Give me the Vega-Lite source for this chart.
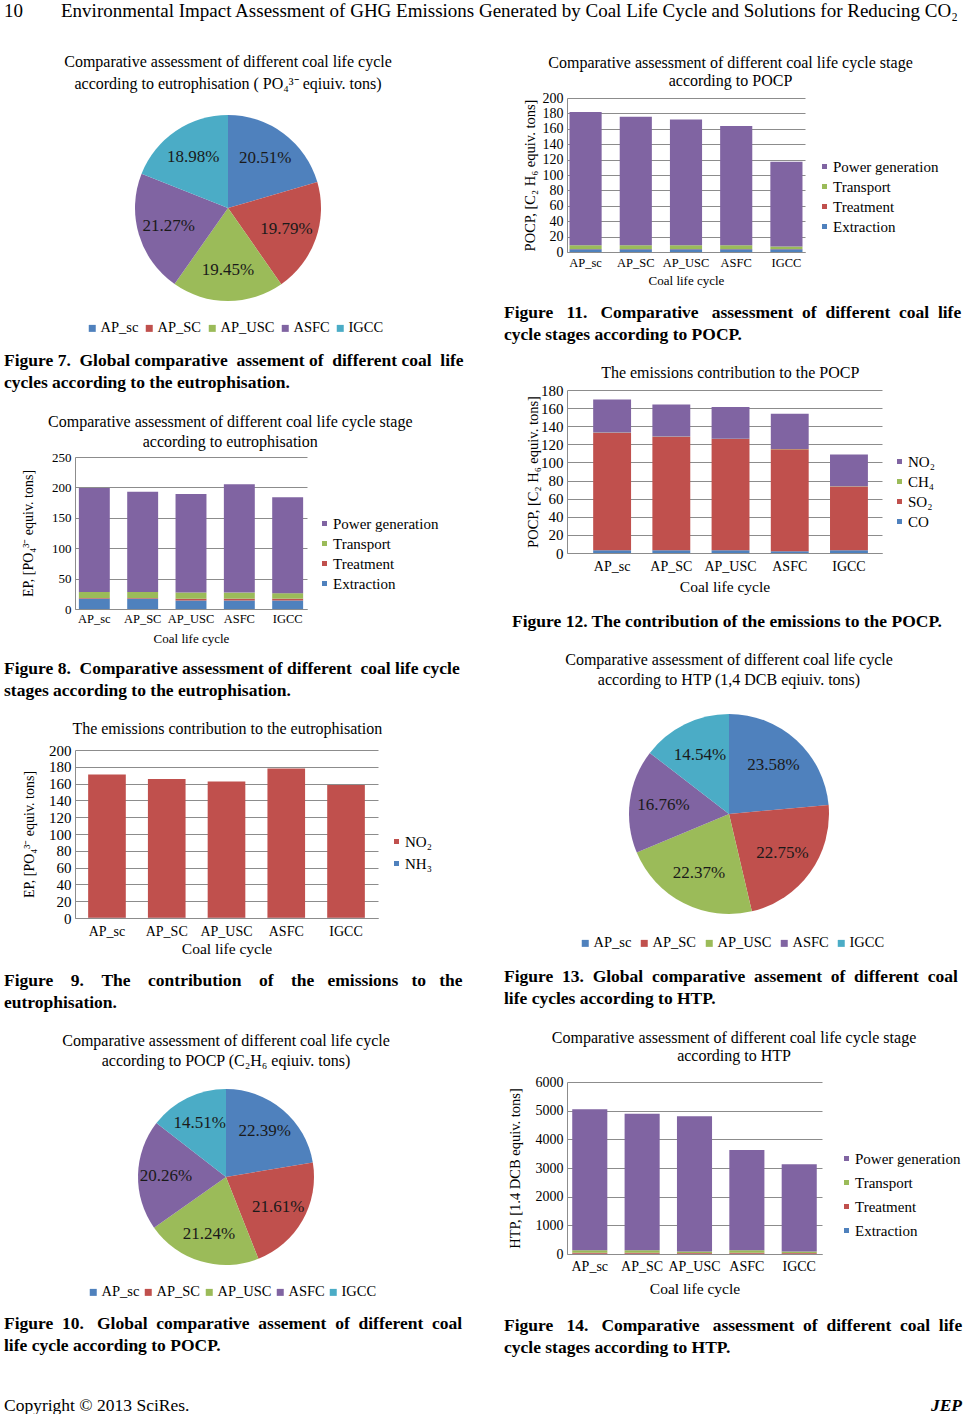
{
  "$schema": "https://vega.github.io/schema/vega-lite/v6.json",
  "background": "white",
  "padding": {"left": 4, "top": 2, "right": 0, "bottom": 0},
  "title": {"text": "10\u2003\u2003Environmental Impact Assessment of GHG Emissions Generated by Coal Life Cycle and Solutions for Reducing CO₂", "anchor": "start", "frame": "bounds", "fontSize": 19, "fontWeight": "normal", "offset": 33},
  "config": {
    "font": "Liberation Serif",
    "view": {"stroke": null},
    "title": {"font": "Liberation Serif", "fontSize": 16, "fontWeight": "normal", "color": "black"},
    "axis": {"labelFont": "Liberation Serif", "titleFont": "Liberation Serif", "labelColor": "black", "titleColor": "black", "titleFontWeight": "normal"},
    "axisY": {"grid": true, "gridColor": "#8c8c8c", "domainColor": "#8c8c8c", "ticks": false, "labelPadding": 4},
    "axisX": {"grid": false, "domainColor": "#8c8c8c", "ticks": false, "labelAngle": 0},
    "legend": {"labelFont": "Liberation Serif", "labelFontSize": 15, "labelColor": "black", "symbolType": "square", "symbolSize": 25, "symbolStrokeWidth": 0, "labelOffset": 1}
  },
  "resolve": {"scale": {"color": "independent"}, "legend": {"color": "independent"}},
  "datasets": {
    "pie7": [
      {"c": "AP_sc", "p": 0.2051, "n": 1}, {"c": "AP_SC", "p": 0.1979, "n": 2}, {"c": "AP_USC", "p": 0.1945, "n": 3}, {"c": "ASFC", "p": 0.2127, "n": 4}, {"c": "IGCC", "p": 0.1898, "n": 5}
    ],
    "pie10": [
      {"c": "AP_sc", "p": 0.2239, "n": 1}, {"c": "AP_SC", "p": 0.2161, "n": 2}, {"c": "AP_USC", "p": 0.2124, "n": 3}, {"c": "ASFC", "p": 0.2026, "n": 4}, {"c": "IGCC", "p": 0.1451, "n": 5}
    ],
    "pie13": [
      {"c": "AP_sc", "p": 0.2358, "n": 1}, {"c": "AP_SC", "p": 0.2275, "n": 2}, {"c": "AP_USC", "p": 0.2237, "n": 3}, {"c": "ASFC", "p": 0.1676, "n": 4}, {"c": "IGCC", "p": 0.1454, "n": 5}
    ],
    "ep_stage": [
      {"c": "AP_sc", "s": "Extraction", "n": 1, "v": 17}, {"c": "AP_sc", "s": "Treatment", "n": 2, "v": 1}, {"c": "AP_sc", "s": "Transport", "n": 3, "v": 10}, {"c": "AP_sc", "s": "Power generation", "n": 4, "v": 171},
      {"c": "AP_SC", "s": "Extraction", "n": 1, "v": 17}, {"c": "AP_SC", "s": "Treatment", "n": 2, "v": 1}, {"c": "AP_SC", "s": "Transport", "n": 3, "v": 10}, {"c": "AP_SC", "s": "Power generation", "n": 4, "v": 165},
      {"c": "AP_USC", "s": "Extraction", "n": 1, "v": 14}, {"c": "AP_USC", "s": "Treatment", "n": 2, "v": 3}, {"c": "AP_USC", "s": "Transport", "n": 3, "v": 10}, {"c": "AP_USC", "s": "Power generation", "n": 4, "v": 162},
      {"c": "ASFC", "s": "Extraction", "n": 1, "v": 14}, {"c": "ASFC", "s": "Treatment", "n": 2, "v": 3}, {"c": "ASFC", "s": "Transport", "n": 3, "v": 10}, {"c": "ASFC", "s": "Power generation", "n": 4, "v": 178},
      {"c": "IGCC", "s": "Extraction", "n": 1, "v": 14}, {"c": "IGCC", "s": "Treatment", "n": 2, "v": 3}, {"c": "IGCC", "s": "Transport", "n": 3, "v": 9}, {"c": "IGCC", "s": "Power generation", "n": 4, "v": 158}
    ],
    "ep_em": [
      {"c": "AP_sc", "s": "NH₃", "n": 1, "v": 0.4}, {"c": "AP_sc", "s": "NO₂", "n": 2, "v": 170.5},
      {"c": "AP_SC", "s": "NH₃", "n": 1, "v": 0.4}, {"c": "AP_SC", "s": "NO₂", "n": 2, "v": 165},
      {"c": "AP_USC", "s": "NH₃", "n": 1, "v": 0.4}, {"c": "AP_USC", "s": "NO₂", "n": 2, "v": 162},
      {"c": "ASFC", "s": "NH₃", "n": 1, "v": 0.4}, {"c": "ASFC", "s": "NO₂", "n": 2, "v": 177.5},
      {"c": "IGCC", "s": "NH₃", "n": 1, "v": 0.4}, {"c": "IGCC", "s": "NO₂", "n": 2, "v": 158}
    ],
    "pocp_stage": [
      {"c": "AP_sc", "s": "Extraction", "n": 1, "v": 3.5}, {"c": "AP_sc", "s": "Treatment", "n": 2, "v": 0.3}, {"c": "AP_sc", "s": "Transport", "n": 3, "v": 5}, {"c": "AP_sc", "s": "Power generation", "n": 4, "v": 173},
      {"c": "AP_SC", "s": "Extraction", "n": 1, "v": 3.5}, {"c": "AP_SC", "s": "Treatment", "n": 2, "v": 0.3}, {"c": "AP_SC", "s": "Transport", "n": 3, "v": 5}, {"c": "AP_SC", "s": "Power generation", "n": 4, "v": 166.7},
      {"c": "AP_USC", "s": "Extraction", "n": 1, "v": 3.5}, {"c": "AP_USC", "s": "Treatment", "n": 2, "v": 0.3}, {"c": "AP_USC", "s": "Transport", "n": 3, "v": 5}, {"c": "AP_USC", "s": "Power generation", "n": 4, "v": 163.2},
      {"c": "ASFC", "s": "Extraction", "n": 1, "v": 3.5}, {"c": "ASFC", "s": "Treatment", "n": 2, "v": 0.3}, {"c": "ASFC", "s": "Transport", "n": 3, "v": 5}, {"c": "ASFC", "s": "Power generation", "n": 4, "v": 154.7},
      {"c": "IGCC", "s": "Extraction", "n": 1, "v": 3.5}, {"c": "IGCC", "s": "Treatment", "n": 2, "v": 0.3}, {"c": "IGCC", "s": "Transport", "n": 3, "v": 3.3}, {"c": "IGCC", "s": "Power generation", "n": 4, "v": 110}
    ],
    "pocp_em": [
      {"c": "AP_sc", "s": "CO", "n": 1, "v": 3}, {"c": "AP_sc", "s": "SO₂", "n": 2, "v": 129.8}, {"c": "AP_sc", "s": "CH₄", "n": 3, "v": 0.3}, {"c": "AP_sc", "s": "NO₂", "n": 4, "v": 36.4},
      {"c": "AP_SC", "s": "CO", "n": 1, "v": 3}, {"c": "AP_SC", "s": "SO₂", "n": 2, "v": 125.3}, {"c": "AP_SC", "s": "CH₄", "n": 3, "v": 0.3}, {"c": "AP_SC", "s": "NO₂", "n": 4, "v": 35.3},
      {"c": "AP_USC", "s": "CO", "n": 1, "v": 3}, {"c": "AP_USC", "s": "SO₂", "n": 2, "v": 123}, {"c": "AP_USC", "s": "CH₄", "n": 3, "v": 0.3}, {"c": "AP_USC", "s": "NO₂", "n": 4, "v": 35},
      {"c": "ASFC", "s": "CO", "n": 1, "v": 2}, {"c": "ASFC", "s": "SO₂", "n": 2, "v": 112.5}, {"c": "ASFC", "s": "CH₄", "n": 3, "v": 0.3}, {"c": "ASFC", "s": "NO₂", "n": 4, "v": 39.1},
      {"c": "IGCC", "s": "CO", "n": 1, "v": 3}, {"c": "IGCC", "s": "SO₂", "n": 2, "v": 70.3}, {"c": "IGCC", "s": "CH₄", "n": 3, "v": 0.3}, {"c": "IGCC", "s": "NO₂", "n": 4, "v": 35.3}
    ],
    "htp_stage": [
      {"c": "AP_sc", "s": "Extraction", "n": 1, "v": 10}, {"c": "AP_sc", "s": "Treatment", "n": 2, "v": 30}, {"c": "AP_sc", "s": "Transport", "n": 3, "v": 90}, {"c": "AP_sc", "s": "Power generation", "n": 4, "v": 4923},
      {"c": "AP_SC", "s": "Extraction", "n": 1, "v": 10}, {"c": "AP_SC", "s": "Treatment", "n": 2, "v": 30}, {"c": "AP_SC", "s": "Transport", "n": 3, "v": 90}, {"c": "AP_SC", "s": "Power generation", "n": 4, "v": 4759},
      {"c": "AP_USC", "s": "Extraction", "n": 1, "v": 10}, {"c": "AP_USC", "s": "Treatment", "n": 2, "v": 25}, {"c": "AP_USC", "s": "Transport", "n": 3, "v": 50}, {"c": "AP_USC", "s": "Power generation", "n": 4, "v": 4722},
      {"c": "ASFC", "s": "Extraction", "n": 1, "v": 10}, {"c": "ASFC", "s": "Treatment", "n": 2, "v": 30}, {"c": "ASFC", "s": "Transport", "n": 3, "v": 90}, {"c": "ASFC", "s": "Power generation", "n": 4, "v": 3496},
      {"c": "IGCC", "s": "Extraction", "n": 1, "v": 10}, {"c": "IGCC", "s": "Treatment", "n": 2, "v": 25}, {"c": "IGCC", "s": "Transport", "n": 3, "v": 50}, {"c": "IGCC", "s": "Power generation", "n": 4, "v": 3050}
    ]
  },
  "spacing": 40,
  "vconcat": [
    {
      "spacing": 40,
      "resolve": {"scale": {"color": "independent"}, "legend": {"color": "independent"}},
      "hconcat": [
        {
          "spacing": 22,
          "resolve": {"scale": {"color": "independent"}, "legend": {"color": "independent"}},
          "vconcat": [
            {
              "title": {"text": ["Figure 7. \u00a0Global comparative \u00a0assement of \u00a0different coal \u00a0life", "cycles according to the eutrophisation."], "orient": "bottom", "anchor": "start", "frame": "group", "dx": -71, "fontSize": 17.5, "fontWeight": "bold", "lineHeight": 22, "offset": 17},
              "resolve": {"scale": {"color": "independent"}, "legend": {"color": "independent"}},
              "vconcat": [
                {
                  "title": {"text": ["Comparative assessment of different coal life cycle", "according to eutrophisation ( PO₄³⁻   eqiuiv. tons)"], "lineHeight": 22, "offset": 6, "anchor": "middle", "frame": "group"},
                  "width": 306, "height": 220,
                  "data": {"name": "pie7"},
                  "encoding": {
                    "theta": {"field": "p", "type": "quantitative", "stack": true},
                    "order": {"field": "n", "type": "quantitative"}
                  },
                  "layer": [
                    {"mark": {"type": "arc", "outerRadius": 93},
                     "encoding": {"color": {"field": "c", "type": "nominal", "scale": {"domain": ["AP_sc", "AP_SC", "AP_USC", "ASFC", "IGCC"], "range": ["#4F81BD", "#C0504D", "#9BBB59", "#8064A2", "#4BACC6"]}, "legend": {"title": null, "orient": "none", "direction": "horizontal", "legendX": 10, "legendY": 223, "symbolSize": 49, "columnPadding": 3, "labelFontSize": 14.5}}}},
                    {"mark": {"type": "text", "radius": 62, "fontSize": 17, "color": "#1a1a1a"},
                     "encoding": {"text": {"field": "p", "type": "quantitative", "format": ".2%"}, "detail": {"field": "c", "type": "nominal"}}}
                  ]
                }
              ]
            },
            {
              "title": {"text": ["Figure 8. \u00a0Comparative assessment of different \u00a0coal life cycle", "stages according to the eutrophisation."], "orient": "bottom", "anchor": "start", "frame": "group", "dx": -71, "fontSize": 17.5, "fontWeight": "bold", "lineHeight": 22, "offset": 14},
              "resolve": {"scale": {"color": "independent"}, "legend": {"color": "independent"}},
              "vconcat": [
                {
                  "title": {"text": ["Comparative assessment of different coal life cycle stage", "according to eutrophisation"], "lineHeight": 20, "offset": 1, "anchor": "middle", "frame": "bounds"},
                  "width": 232, "height": 152,
                  "data": {"name": "ep_stage"},
                  "mark": {"type": "bar"},
                  "encoding": {
                    "x": {"field": "c", "type": "nominal", "sort": ["AP_sc", "AP_SC", "AP_USC", "ASFC", "IGCC"], "scale": {"paddingInner": 0.36, "paddingOuter": 0.08}, "axis": {"title": "Coal life cycle", "labelFontSize": 12.5, "titleFontSize": 13, "labelPadding": 3, "titlePadding": 8}},
                    "y": {"field": "v", "type": "quantitative", "stack": "zero", "scale": {"domain": [0, 250]}, "axis": {"title": "EP, [PO₄³⁻ equiv. tons]", "values": [0, 50, 100, 150, 200, 250], "labelFontSize": 13, "titleFontSize": 14, "titlePadding": 16}},
                    "color": {"field": "s", "type": "nominal", "scale": {"domain": ["Power generation", "Transport", "Treatment", "Extraction"], "range": ["#8064A2", "#9BBB59", "#C0504D", "#4F81BD"]}, "legend": {"title": null, "orient": "none", "legendX": 242, "legendY": 59, "rowPadding": 4}},
                    "order": {"field": "n", "type": "quantitative"}
                  }
                }
              ]
            },
            {
              "title": {"text": ["Figure \u00a0\u00a0\u00a09. \u00a0\u00a0\u00a0The \u00a0\u00a0\u00a0contribution \u00a0\u00a0\u00a0of \u00a0\u00a0\u00a0the \u00a0\u00a0emissions \u00a0\u00a0to \u00a0\u00a0the", "eutrophisation."], "orient": "bottom", "anchor": "start", "frame": "group", "dx": -71, "fontSize": 17.5, "fontWeight": "bold", "lineHeight": 22, "offset": 15},
              "resolve": {"scale": {"color": "independent"}, "legend": {"color": "independent"}},
              "vconcat": [
                {
                  "title": {"text": "The emissions contribution to the eutrophisation", "offset": 6, "anchor": "middle", "frame": "bounds"},
                  "width": 303, "height": 168,
                  "data": {"name": "ep_em"},
                  "mark": {"type": "bar"},
                  "encoding": {
                    "x": {"field": "c", "type": "nominal", "sort": ["AP_sc", "AP_SC", "AP_USC", "ASFC", "IGCC"], "scale": {"paddingInner": 0.37, "paddingOuter": 0.22}, "axis": {"title": "Coal life cycle", "labelFontSize": 14, "titleFontSize": 15.5, "labelPadding": 6, "titlePadding": 3}},
                    "y": {"field": "v", "type": "quantitative", "stack": "zero", "scale": {"domain": [0, 200]}, "axis": {"title": "EP, [PO₄³⁻ equiv. tons]", "values": [0, 20, 40, 60, 80, 100, 120, 140, 160, 180, 200], "labelFontSize": 15, "titleFontSize": 14, "titlePadding": 12}},
                    "color": {"field": "s", "type": "nominal", "scale": {"domain": ["NO₂", "NH₃"], "range": ["#C0504D", "#4F81BD"]}, "legend": {"title": null, "orient": "none", "legendX": 314, "legendY": 84, "rowPadding": 6}},
                    "order": {"field": "n", "type": "quantitative"}
                  }
                }
              ]
            },
            {
              "title": {"text": ["Figure \u00a010. \u00a0\u00a0Global \u00a0comparative \u00a0assement \u00a0of \u00a0different \u00a0coal", "life cycle according to POCP."], "orient": "bottom", "anchor": "start", "frame": "group", "dx": -71, "fontSize": 17.5, "fontWeight": "bold", "lineHeight": 22, "offset": 16},
              "resolve": {"scale": {"color": "independent"}, "legend": {"color": "independent"}},
              "vconcat": [
                {
                  "title": {"text": ["Comparative assessment of different coal life cycle", "according to POCP (C₂H₆ eqiuiv. tons)"], "lineHeight": 20, "offset": 18, "anchor": "middle", "frame": "group"},
                  "width": 302, "height": 180,
                  "data": {"name": "pie10"},
                  "encoding": {
                    "theta": {"field": "p", "type": "quantitative", "stack": true},
                    "order": {"field": "n", "type": "quantitative"}
                  },
                  "layer": [
                    {"mark": {"type": "arc", "outerRadius": 88},
                     "encoding": {"color": {"field": "c", "type": "nominal", "scale": {"domain": ["AP_sc", "AP_SC", "AP_USC", "ASFC", "IGCC"], "range": ["#4F81BD", "#C0504D", "#9BBB59", "#8064A2", "#4BACC6"]}, "legend": {"title": null, "orient": "none", "direction": "horizontal", "legendX": 11, "legendY": 198, "symbolSize": 49, "columnPadding": 1, "labelFontSize": 14.5}}}},
                    {"mark": {"type": "text", "radius": 60, "fontSize": 17, "color": "#1a1a1a"},
                     "encoding": {"text": {"field": "p", "type": "quantitative", "format": ".2%"}, "detail": {"field": "c", "type": "nominal"}}}
                  ]
                }
              ]
            }
          ]
        },
        {
          "spacing": 22,
          "resolve": {"scale": {"color": "independent"}, "legend": {"color": "independent"}},
          "vconcat": [
            {
              "title": {"text": ["Figure \u00a0\u00a011. \u00a0\u00a0Comparative \u00a0\u00a0assessment \u00a0of \u00a0different \u00a0coal \u00a0life", "cycle stages according to POCP."], "orient": "bottom", "anchor": "start", "frame": "group", "dx": -63, "fontSize": 17.5, "fontWeight": "bold", "lineHeight": 22, "offset": 16},
              "resolve": {"scale": {"color": "independent"}, "legend": {"color": "independent"}},
              "vconcat": [
                {
                  "title": {"text": ["Comparative assessment of different coal life cycle stage", "according to POCP"], "lineHeight": 18, "offset": 2, "anchor": "middle", "frame": "bounds"},
                  "width": 238, "height": 154,
                  "data": {"name": "pocp_stage"},
                  "mark": {"type": "bar"},
                  "encoding": {
                    "x": {"field": "c", "type": "nominal", "sort": ["AP_sc", "AP_SC", "AP_USC", "ASFC", "IGCC"], "scale": {"paddingInner": 0.36, "paddingOuter": 0.05}, "axis": {"title": "Coal life cycle", "labelFontSize": 12.5, "titleFontSize": 13, "labelPadding": 4, "titlePadding": 6}},
                    "y": {"field": "v", "type": "quantitative", "stack": "zero", "scale": {"domain": [0, 200]}, "axis": {"title": "POCP, [C₂ H₆ equiv. tons]", "values": [0, 20, 40, 60, 80, 100, 120, 140, 160, 180, 200], "labelFontSize": 14, "titleFontSize": 14.5, "titlePadding": 5}},
                    "color": {"field": "s", "type": "nominal", "scale": {"domain": ["Power generation", "Transport", "Treatment", "Extraction"], "range": ["#8064A2", "#9BBB59", "#C0504D", "#4F81BD"]}, "legend": {"title": null, "orient": "none", "legendX": 250, "legendY": 61, "rowPadding": 4}},
                    "order": {"field": "n", "type": "quantitative"}
                  }
                }
              ]
            },
            {
              "title": {"text": "Figure 12. The contribution of the emissions to the POCP.", "orient": "bottom", "anchor": "start", "frame": "group", "dx": -55, "fontSize": 17.5, "fontWeight": "bold", "offset": 18},
              "resolve": {"scale": {"color": "independent"}, "legend": {"color": "independent"}},
              "vconcat": [
                {
                  "title": {"text": "The emissions contribution to the POCP", "offset": 2, "anchor": "middle", "frame": "bounds"},
                  "width": 315, "height": 163,
                  "data": {"name": "pocp_em"},
                  "mark": {"type": "bar"},
                  "encoding": {
                    "x": {"field": "c", "type": "nominal", "sort": ["AP_sc", "AP_SC", "AP_USC", "ASFC", "IGCC"], "scale": {"paddingInner": 0.36, "paddingOuter": 0.34, "align": 0.65}, "axis": {"title": "Coal life cycle", "labelFontSize": 14, "titleFontSize": 15.5, "labelPadding": 6, "titlePadding": 6}},
                    "y": {"field": "v", "type": "quantitative", "stack": "zero", "scale": {"domain": [0, 180]}, "axis": {"title": "POCP, [C₂ H₆ equiv. tons]", "values": [0, 20, 40, 60, 80, 100, 120, 140, 160, 180], "labelFontSize": 15, "titleFontSize": 14.5, "titlePadding": 0}},
                    "color": {"field": "s", "type": "nominal", "scale": {"domain": ["NO₂", "CH₄", "SO₂", "CO"], "range": ["#8064A2", "#9BBB59", "#C0504D", "#4F81BD"]}, "legend": {"title": null, "orient": "none", "legendX": 325, "legendY": 64, "rowPadding": 4}},
                    "order": {"field": "n", "type": "quantitative"}
                  }
                }
              ]
            },
            {
              "title": {"text": ["Figure \u00a013. \u00a0Global \u00a0comparative \u00a0assement \u00a0of \u00a0different \u00a0coal", "life cycles according to HTP."], "orient": "bottom", "anchor": "start", "frame": "group", "dx": -63, "fontSize": 17.5, "fontWeight": "bold", "lineHeight": 22, "offset": 18},
              "resolve": {"scale": {"color": "independent"}, "legend": {"color": "independent"}},
              "vconcat": [
                {
                  "title": {"text": ["Comparative assessment of different coal life cycle", "according to HTP (1,4 DCB eqiuiv. tons)"], "lineHeight": 20, "offset": 21, "anchor": "middle", "frame": "group"},
                  "width": 324, "height": 210,
                  "data": {"name": "pie13"},
                  "encoding": {
                    "theta": {"field": "p", "type": "quantitative", "stack": true},
                    "order": {"field": "n", "type": "quantitative"}
                  },
                  "layer": [
                    {"mark": {"type": "arc", "outerRadius": 100},
                     "encoding": {"color": {"field": "c", "type": "nominal", "scale": {"domain": ["AP_sc", "AP_SC", "AP_USC", "ASFC", "IGCC"], "range": ["#4F81BD", "#C0504D", "#9BBB59", "#8064A2", "#4BACC6"]}, "legend": {"title": null, "orient": "none", "direction": "horizontal", "legendX": 11, "legendY": 227, "symbolSize": 49, "columnPadding": 5, "labelFontSize": 14.5}}}},
                    {"mark": {"type": "text", "radius": 66, "fontSize": 17, "color": "#1a1a1a"},
                     "encoding": {"text": {"field": "p", "type": "quantitative", "format": ".2%"}, "detail": {"field": "c", "type": "nominal"}}}
                  ]
                }
              ]
            },
            {
              "title": {"text": ["Figure \u00a0\u00a014. \u00a0\u00a0Comparative \u00a0\u00a0assessment \u00a0of \u00a0different \u00a0coal \u00a0life", "cycle stages according to HTP."], "orient": "bottom", "anchor": "start", "frame": "group", "dx": -63, "fontSize": 17.5, "fontWeight": "bold", "lineHeight": 22, "offset": 20},
              "resolve": {"scale": {"color": "independent"}, "legend": {"color": "independent"}},
              "vconcat": [
                {
                  "title": {"text": ["Comparative assessment of different coal life cycle stage", "according to HTP"], "lineHeight": 18, "offset": 11, "anchor": "middle", "frame": "bounds"},
                  "width": 255, "height": 172,
                  "data": {"name": "htp_stage"},
                  "mark": {"type": "bar"},
                  "encoding": {
                    "x": {"field": "c", "type": "nominal", "sort": ["AP_sc", "AP_SC", "AP_USC", "ASFC", "IGCC"], "scale": {"paddingInner": 0.33, "paddingOuter": 0.1}, "axis": {"title": "Coal life cycle", "labelFontSize": 14, "titleFontSize": 15.5, "labelPadding": 5, "titlePadding": 8}},
                    "y": {"field": "v", "type": "quantitative", "stack": "zero", "scale": {"domain": [0, 6000]}, "axis": {"title": "HTP, [1.4 DCB equiv. tons]", "values": [0, 1000, 2000, 3000, 4000, 5000, 6000], "format": "d", "labelFontSize": 14, "titleFontSize": 14.5, "titlePadding": 13}},
                    "color": {"field": "s", "type": "nominal", "scale": {"domain": ["Power generation", "Transport", "Treatment", "Extraction"], "range": ["#8064A2", "#9BBB59", "#C0504D", "#4F81BD"]}, "legend": {"title": null, "orient": "none", "legendX": 272, "legendY": 69, "rowPadding": 8}},
                    "order": {"field": "n", "type": "quantitative"}
                  }
                }
              ]
            }
          ]
        }
      ]
    },
    {
      "spacing": 0,
      "hconcat": [
        {"width": 400, "height": 1, "data": {"values": []}, "mark": "point", "encoding": {}, "title": {"text": "Copyright © 2013 SciRes.", "anchor": "start", "frame": "group", "dx": -71, "fontSize": 17.5, "offset": 0}},
        {"width": 487, "height": 1, "data": {"values": []}, "mark": "point", "encoding": {}, "title": {"text": "JEP", "anchor": "end", "frame": "group", "fontSize": 17.5, "fontWeight": "bold", "fontStyle": "italic", "offset": 0}}
      ]
    }
  ]
}
